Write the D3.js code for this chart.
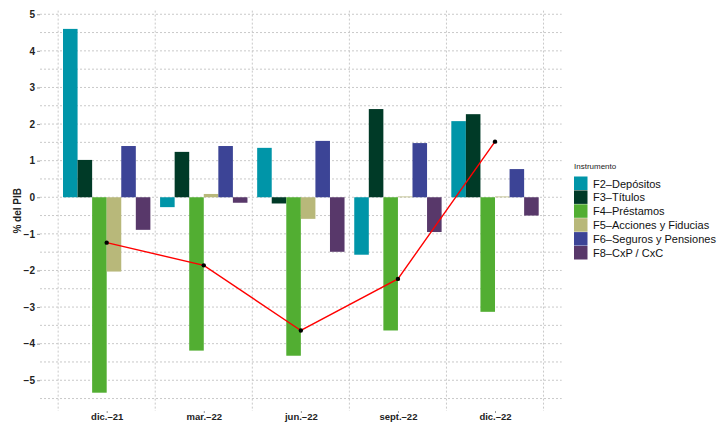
<!DOCTYPE html>
<html>
<head>
<meta charset="utf-8">
<script src="https://cdn.jsdelivr.net/npm/d3@7"></script>
<style>
  body { margin: 0; background: #fff; }
  svg { font-family: "Liberation Sans", Arial, sans-serif; }
</style>
</head>
<body>
<div id="chart"></div>
<script>
// data
var periods = ["dic.–21", "mar.–22", "jun.–22", "sept.–22", "dic.–22"];
var series = ["F2–Depósitos", "F3–Títulos", "F4–Préstamos", "F5–Acciones y Fiducias", "F6–Seguros y Pensiones", "F8–CxP / CxC"];
var colors = ["#0095a8", "#003a27", "#52ae32", "#b8b87a", "#3c4496", "#58386a"];

var f2 = [4.60, -0.27, 1.35, -1.57, 2.08];
var f3 = [1.02, 1.24, -0.17, 2.41, 2.27];
var f4 = [-5.34, -4.19, -4.33, -3.64, -3.13];
var f5 = [-2.03, 0.09, -0.59, 0.02, 0.02];
var f6 = [1.40, 1.40, 1.54, 1.48, 0.77];
var f8 = [-0.89, -0.15, -1.49, -0.95, -0.50];
var total = [-1.24, -1.86, -3.64, -2.23, 1.52];

var yTicks = [-5, -4, -3, -2, -1, 0, 1, 2, 3, 4, 5];

var values = [f2, f3, f4, f5, f6, f8];

var svg = d3.select("#chart").append("svg")
    .attr("width", 718)
    .attr("height", 423);

// panel edges
var pLeft = 40, pRight = 561.7, pTop = 10.6, pBottom = 411;

var x = d3.scalePoint()
    .domain(periods)
    .range([pLeft, pRight])
    .padding(0.687);

var step = x.step();

var xSub = d3.scaleBand()
    .domain(series)
    .range([-step * 0.45, step * 0.45]);

var y = d3.scaleLinear()
    .domain([-5.84, 5.1])
    .range([pBottom, pTop]);

var gridColor = "#c9c9c9";

// horizontal grid, integers and halves
var hGrid = d3.range(-5.5, 5.01, 0.5);
svg.append("g").selectAll("line")
    .data(hGrid)
    .enter().append("line")
    .attr("x1", pLeft)
    .attr("x2", pRight)
    .attr("y1", d => y(d))
    .attr("y2", d => y(d))
    .attr("stroke", gridColor)
    .attr("stroke-width", 1)
    .attr("stroke-dasharray", "2,2");

// vertical grid between periods
var vGrid = d3.range(periods.length + 1).map(i => x(periods[0]) - step / 2 + i * step);
svg.append("g").selectAll("line")
    .data(vGrid)
    .enter().append("line")
    .attr("x1", d => d)
    .attr("x2", d => d)
    .attr("y1", pTop)
    .attr("y2", pBottom)
    .attr("stroke", gridColor)
    .attr("stroke-width", 1)
    .attr("stroke-dasharray", "2,2");

// bars
series.forEach(function(s, si) {
    svg.append("g").selectAll("rect")
        .data(values[si])
        .enter().append("rect")
        .attr("x", (d, i) => x(periods[i]) + xSub(s))
        .attr("width", xSub.bandwidth())
        .attr("y", d => y(Math.max(0, d)))
        .attr("height", d => Math.abs(y(d) - y(0)))
        .attr("fill", colors[si]);
});

// total line
var line = d3.line()
    .x((d, i) => x(periods[i]))
    .y(d => y(d));

svg.append("path")
    .datum(total)
    .attr("d", line)
    .attr("fill", "none")
    .attr("stroke", "#ff0000")
    .attr("stroke-width", 1.4);

svg.append("g").selectAll("circle")
    .data(total)
    .enter().append("circle")
    .attr("cx", (d, i) => x(periods[i]))
    .attr("cy", d => y(d))
    .attr("r", 2.2)
    .attr("fill", "#000");

// y axis
var yAxis = d3.axisLeft(y)
    .tickValues(yTicks)
    .tickSize(3)
    .tickPadding(2)
    .tickFormat(d => d < 0 ? "−" + Math.abs(d) : d);

var gy = svg.append("g")
    .attr("transform", "translate(" + pLeft + ",0)")
    .call(yAxis);
gy.select(".domain").remove();
gy.selectAll("line").attr("stroke", "#999");
gy.selectAll("text")
    .attr("font-size", 10)
    .attr("font-weight", "bold")
    .attr("fill", "#222");

// x axis
var xAxis = d3.axisBottom(x)
    .tickSize(2)
    .tickPadding(0);

var gx = svg.append("g")
    .attr("transform", "translate(0," + pBottom + ")")
    .call(xAxis);
gx.select(".domain").remove();
gx.selectAll("line").attr("stroke", "#999");
gx.selectAll("text")
    .attr("font-size", 9.5)
    .attr("font-weight", "bold")
    .attr("fill", "#222");

// y title
svg.append("text")
    .attr("transform", "translate(21," + ((pTop + pBottom) / 2) + ") rotate(-90)")
    .attr("text-anchor", "middle")
    .attr("font-size", 10)
    .attr("font-weight", "bold")
    .attr("fill", "#222")
    .text("% del PIB");

// legend
var legend = svg.append("g")
    .attr("transform", "translate(574,0)");

legend.append("text")
    .attr("x", 0)
    .attr("y", 169)
    .attr("font-size", 8)
    .attr("fill", "#222")
    .text("Instrumento");

var rows = legend.selectAll("g.row")
    .data(series)
    .enter().append("g")
    .attr("class", "row")
    .attr("transform", (d, i) => "translate(0," + (176.5 + i * 13.9) + ")");

rows.append("rect")
    .attr("width", 13.5)
    .attr("height", 13.5)
    .attr("fill", (d, i) => colors[i]);

rows.append("text")
    .attr("x", 19)
    .attr("y", 11)
    .attr("font-size", 11)
    .attr("fill", "#111")
    .text(d => d);
</script>
</body>
</html>
